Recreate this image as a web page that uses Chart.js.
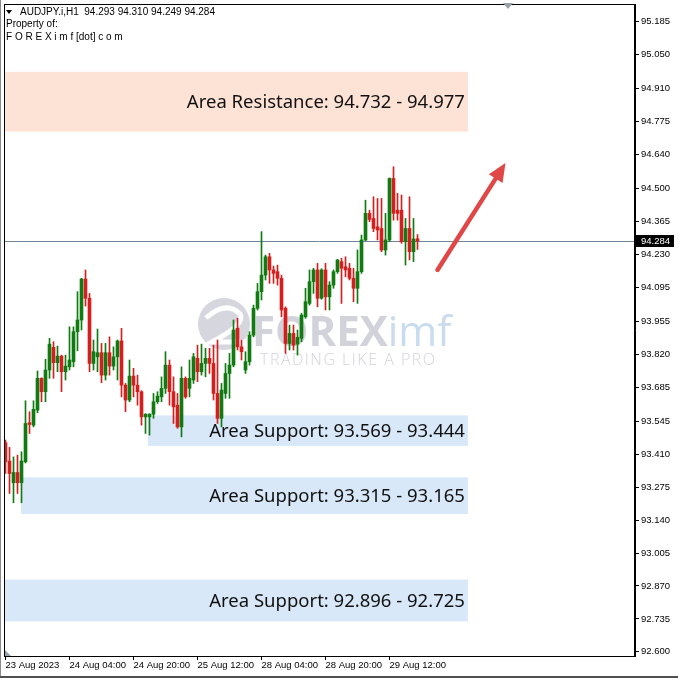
<!DOCTYPE html>
<html>
<head>
<meta charset="utf-8">
<script src="https://cdn.jsdelivr.net/npm/chart.js@4.4.0/dist/chart.umd.min.js"></script>
<style>
html, body { margin: 0; padding: 0; background: #fff; }
#wrap { width: 678px; height: 678px; }
</style>
</head>
<body>
<div id="wrap"><canvas id="myCandleChart" width="678" height="678"></canvas></div>
<script>
// AUDJPY.i H1 - one value per hourly bar, 23 Aug 12:00 -> 29 Aug 19:00
const opens = [93.457, 93.382, 93.293, 93.335, 93.293, 93.379, 93.539, 93.529, 93.591, 93.721,
    93.666, 93.755, 93.848, 93.785, 93.812, 93.748, 93.768, 93.789, 93.912, 93.960,
    94.128, 94.049, 93.782, 93.809, 93.826, 93.734, 93.826, 93.771, 93.809, 93.874,
    93.693, 93.632, 93.730, 93.693, 93.666, 93.563, 93.563, 93.574, 93.625, 93.645,
    93.680, 93.775, 93.666, 93.611, 93.522, 93.721, 93.680, 93.714, 93.803, 93.748,
    93.782, 93.803, 93.782, 93.659, 93.557, 93.659, 93.741, 93.775, 93.926, 93.850,
    93.755, 93.789, 93.898, 94.008, 94.076, 94.144, 94.219, 94.165, 94.158, 94.131,
    94.008, 93.864, 93.905, 93.861, 93.885, 93.973, 94.028, 94.117, 94.165, 94.049,
    94.165, 94.055, 94.103, 94.158, 94.199, 94.178, 94.172, 94.131, 94.090, 94.158,
    94.288, 94.397, 94.376, 94.342, 94.335, 94.247, 94.288, 94.540, 94.410, 94.410,
    94.281, 94.335, 94.240, 94.293];
const highs = [93.468, 93.438, 93.399, 93.406, 93.420, 93.629, 93.584, 93.629, 93.751, 93.723,
    93.799, 93.885, 93.871, 93.853, 93.816, 93.816, 93.932, 93.932, 94.076, 94.131,
    94.165, 94.069, 93.878, 93.923, 93.864, 93.864, 93.891, 93.850, 93.878, 93.926,
    93.700, 93.796, 93.762, 93.734, 93.670, 93.576, 93.576, 93.659, 93.666, 93.727,
    93.830, 93.796, 93.727, 93.659, 93.768, 93.727, 93.796, 93.823, 93.857, 93.861,
    93.844, 93.844, 93.857, 93.878, 93.700, 93.782, 93.823, 93.960, 93.967, 93.878,
    93.830, 93.912, 94.021, 94.110, 94.322, 94.226, 94.233, 94.181, 94.185, 94.144,
    94.014, 93.939, 93.939, 93.919, 93.987, 94.090, 94.165, 94.172, 94.192, 94.170,
    94.192, 94.117, 94.165, 94.208, 94.213, 94.219, 94.192, 94.172, 94.247, 94.308,
    94.451, 94.410, 94.465, 94.458, 94.458, 94.397, 94.542, 94.588, 94.479, 94.472,
    94.376, 94.465, 94.376, 94.310];
const lows = [93.331, 93.249, 93.211, 93.249, 93.211, 93.374, 93.495, 93.522, 93.580, 93.625,
    93.625, 93.721, 93.721, 93.748, 93.666, 93.714, 93.755, 93.768, 93.834, 93.919,
    94.017, 93.748, 93.755, 93.748, 93.703, 93.714, 93.734, 93.755, 93.714, 93.645,
    93.584, 93.625, 93.645, 93.611, 93.529, 93.495, 93.488, 93.557, 93.618, 93.625,
    93.659, 93.611, 93.536, 93.516, 93.481, 93.639, 93.645, 93.700, 93.707, 93.734,
    93.727, 93.741, 93.632, 93.536, 93.522, 93.639, 93.639, 93.768, 93.837, 93.796,
    93.741, 93.775, 93.891, 94.001, 94.042, 94.124, 94.110, 94.110, 94.103, 93.973,
    93.823, 93.837, 93.837, 93.816, 93.871, 93.967, 94.021, 94.069, 94.014, 94.045,
    94.001, 94.001, 94.090, 94.151, 94.028, 94.137, 94.124, 94.035, 94.028, 94.151,
    94.285, 94.363, 94.322, 94.288, 94.240, 94.226, 94.281, 94.369, 94.369, 94.274,
    94.185, 94.206, 94.199, 94.249];
const closes = [93.379, 93.331, 93.335, 93.293, 93.382, 93.536, 93.532, 93.594, 93.721, 93.666,
    93.755, 93.861, 93.785, 93.812, 93.748, 93.771, 93.796, 93.912, 93.960, 94.128,
    94.049, 93.782, 93.830, 93.826, 93.734, 93.826, 93.771, 93.809, 93.874, 93.693,
    93.632, 93.730, 93.693, 93.666, 93.563, 93.574, 93.574, 93.625, 93.648, 93.680,
    93.775, 93.666, 93.604, 93.522, 93.721, 93.645, 93.721, 93.809, 93.748, 93.782,
    93.803, 93.782, 93.659, 93.557, 93.673, 93.741, 93.775, 93.919, 93.850, 93.830,
    93.789, 93.898, 94.008, 94.076, 94.144, 94.219, 94.165, 94.151, 94.131, 94.001,
    93.864, 93.905, 93.857, 93.889, 93.980, 94.035, 94.117, 94.165, 94.049, 94.165,
    94.055, 94.103, 94.158, 94.206, 94.172, 94.165, 94.131, 94.090, 94.158, 94.288,
    94.397, 94.372, 94.335, 94.329, 94.247, 94.288, 94.540, 94.397, 94.397, 94.281,
    94.335, 94.240, 94.292, 94.284];

// eixo X: um rótulo a cada 16 barras
const xTickBars = [0, 16, 32, 48, 64, 80, 96];
const xTickLabels = ['23 Aug 2023', '24 Aug 04:00', '24 Aug 20:00', '25 Aug 12:00', '28 Aug 04:00', '28 Aug 20:00', '29 Aug 12:00'];
const yTickLabels = ['95.185', '95.050', '94.910', '94.775', '94.640', '94.500', '94.365', '94.230', '94.095', '93.955',
    '93.820', '93.685', '93.545', '93.410', '93.275', '93.140', '93.005', '92.870', '92.735', '92.600'];

// zonas (valor da esquerda e da direita do rótulo)
const zoneNames = ['Area Resistance', 'Area Support', 'Area Support', 'Area Support'];
const zoneFrom = [94.732, 93.569, 93.315, 92.896];
const zoneTo = [94.977, 93.444, 93.165, 92.725];
const lastPrice = 94.284;
const headerOHLC = ['94.293', '94.310', '94.249', '94.284'];

// where the boxes start/end, in bar units
const zoneStart = [-1, 35.6, 3.9, -1];
const zoneEnd = 115.6;
const zoneColors = ['#fde2d6', '#d8e8f8', '#d8e8f8', '#d8e8f8'];
const arrowFrom = { bar: 108, price: 94.165 };
const arrowTo = { bar: 125, price: 94.603 };

const upColor = '#127a12';
const downColor = '#d3201f';
const candleColors = opens.map((o, i) => closes[i] >= o ? upColor : downColor);
const bars = opens.map((o, i) => i);

Chart.defaults.font.family = '"Liberation Sans", Arial, sans-serif';
Chart.defaults.font.size = 9.5;
Chart.defaults.color = '#000';

const overlayPlugin = {
    id: 'fxOverlay',
    beforeDatasetsDraw(chart) {
        const c = chart.ctx;
        const x = chart.scales.x, y = chart.scales.y;
        const area = chart.chartArea;
        c.save();
        c.beginPath();
        c.rect(area.left, area.top, area.right - area.left, area.bottom - area.top);
        c.clip();

        // zonas
        zoneFrom.forEach((from, i) => {
            const to = zoneTo[i];
            const x0 = Math.max(area.left, x.getPixelForValue(zoneStart[i]));
            const x1 = x.getPixelForValue(zoneEnd);
            const yTop = y.getPixelForValue(Math.max(from, to));
            const yBot = y.getPixelForValue(Math.min(from, to));
            c.fillStyle = zoneColors[i];
            c.fillRect(x0, yTop, x1 - x0, yBot - yTop);
            c.fillStyle = '#111';
            c.font = '18.5px "Noto Sans", sans-serif';
            c.textAlign = 'right';
            c.textBaseline = 'middle';
            c.fillText(zoneNames[i] + ': ' + from.toFixed(3) + ' - ' + to.toFixed(3), x1 - 3, (yTop + yBot) / 2 + 1);
        });

        // watermark
        c.fillStyle = '#d6d6de';
        c.beginPath();
        c.arc(224, 324, 26, 0, Math.PI * 2);
        c.fill();
        c.strokeStyle = '#ffffff';
        c.lineWidth = 5;
        c.beginPath();
        c.moveTo(206, 318);
        c.quadraticCurveTo(226, 300, 240, 314);
        c.quadraticCurveTo(246, 324, 212, 342);
        c.lineTo(250, 342);
        c.stroke();
        c.textAlign = 'left';
        c.textBaseline = 'alphabetic';
        c.font = 'bold 42px "Open Sans", sans-serif';
        c.fillStyle = '#d2d2da';
        c.fillText('FOREX', 252, 346);
        const fw = c.measureText('FOREX').width;
        c.fillStyle = '#c9dcef';
        c.font = '42px "Open Sans", sans-serif';
        c.fillText('imf', 252 + fw, 346);
        c.font = '300 16px "Open Sans", sans-serif';
        c.letterSpacing = '1.5px';
        c.fillStyle = '#d4d4da';
        c.fillText('TRADING LIKE A PRO', 260, 365);
        c.letterSpacing = '0px';

        // linha do preço atual
        const yp = Math.round(y.getPixelForValue(lastPrice)) + 0.5;
        c.strokeStyle = '#70849a';
        c.lineWidth = 1;
        c.beginPath();
        c.moveTo(area.left, yp);
        c.lineTo(area.right, yp);
        c.stroke();
        c.restore();
    },
    afterDraw(chart) {
        const c = chart.ctx;
        const x = chart.scales.x, y = chart.scales.y;
        const area = chart.chartArea;
        c.save();
        // moldura
        c.strokeStyle = '#000';
        c.lineWidth = 1;
        c.strokeRect(area.left + 0.5, area.top + 0.5, area.right - area.left - 1, area.bottom - area.top);

        // seta
        const ax0 = x.getPixelForValue(arrowFrom.bar), ay0 = y.getPixelForValue(arrowFrom.price);
        const ax1 = x.getPixelForValue(arrowTo.bar), ay1 = y.getPixelForValue(arrowTo.price);
        const ang = Math.atan2(ay1 - ay0, ax1 - ax0);
        const headLen = 20;
        c.strokeStyle = '#e04848';
        c.fillStyle = '#e04848';
        c.lineWidth = 4.5;
        c.lineCap = 'round';
        c.beginPath();
        c.moveTo(ax0, ay0);
        c.lineTo(ax1 - Math.cos(ang) * headLen * 0.8, ay1 - Math.sin(ang) * headLen * 0.8);
        c.stroke();
        c.beginPath();
        c.moveTo(ax1, ay1);
        c.lineTo(ax1 - Math.cos(ang - 0.42) * headLen, ay1 - Math.sin(ang - 0.42) * headLen);
        c.lineTo(ax1 - Math.cos(ang + 0.42) * headLen, ay1 - Math.sin(ang + 0.42) * headLen);
        c.closePath();
        c.fill();

        // price label on the axis
        const yp = Math.round(y.getPixelForValue(lastPrice));
        c.fillStyle = '#000';
        c.fillRect(area.right + 1, yp - 6, 38, 12);
        c.fillStyle = '#fff';
        c.font = '9.5px "Liberation Sans", Arial, sans-serif';
        c.textAlign = 'left';
        c.textBaseline = 'middle';
        c.fillText(lastPrice.toFixed(3), area.right + 6, yp + 0.5);

        // cabeçalho
        c.fillStyle = '#000';
        c.beginPath();
        c.moveTo(6, 10);
        c.lineTo(12, 10);
        c.lineTo(9, 14);
        c.closePath();
        c.fill();
        c.font = '10px "Liberation Sans", Arial, sans-serif';
        c.textBaseline = 'middle';
        c.fillText('AUDJPY.i,H1  ' + headerOHLC.join(' '), 20, 12);
        c.fillText('Property of:', 6, 24);
        c.fillText('F O R E X i m f [dot] c o m', 6, 37);

        // small shift marker at the top
        c.fillStyle = '#9aa0a8';
        c.beginPath();
        c.moveTo(503, 3);
        c.lineTo(513, 3);
        c.lineTo(508, 9);
        c.closePath();
        c.fill();
        c.beginPath();
        c.moveTo(5, area.bottom);
        c.lineTo(5, area.bottom - 6);
        c.lineTo(11, area.bottom);
        c.closePath();
        c.fill();

        // window frame
        c.fillStyle = '#8a8a8a';
        c.fillRect(0, 0, 1, 678);
        c.fillStyle = '#505050';
        c.fillRect(0, 676, 678, 2);
        c.restore();
    }
};

const ctx = document.getElementById('myCandleChart').getContext('2d');
const myCandleChart = new Chart(ctx, {
    type: 'bar',
    data: {
        datasets: [
            {
                label: 'Wicks',
                data: bars.map(i => ({ x: i, y: [lows[i], highs[i]] })),
                backgroundColor: candleColors,
                barThickness: 1,
                grouped: false,
                order: 2
            },
            {
                label: 'Bodies',
                data: bars.map(i => ({ x: i, y: [opens[i], closes[i]] })),
                backgroundColor: candleColors,
                barThickness: 3,
                minBarLength: 1,
                grouped: false,
                order: 1
            }
        ]
    },
    options: {
        responsive: false,
        animation: false,
        devicePixelRatio: 1,
        layout: { padding: { top: 4, left: 4, right: 0, bottom: 0 } },
        plugins: { legend: { display: false }, tooltip: { enabled: false } },
        scales: {
            x: {
                type: 'linear',
                min: -0.375,
                max: 157.375,
                offset: false,
                grid: { display: true, offset: false, drawOnChartArea: false, tickLength: 4, color: '#000' },
                border: { display: true, color: '#000' },
                afterBuildTicks: axis => { axis.ticks = xTickBars.map(v => ({ value: v })); },
                afterFit: axis => {
                    axis.height = 22;
                    axis.paddingLeft = 0;
                    axis.paddingRight = 0;
                },
                ticks: {
                    autoSkip: false,
                    maxRotation: 0,
                    align: 'start',
                    padding: 0,
                    callback: v => xTickLabels[xTickBars.indexOf(v)]
                }
            },
            y: {
                position: 'right',
                min: 92.583,
                max: 95.255,
                grid: { display: true, drawOnChartArea: false, tickLength: 4, color: '#000' },
                border: { display: true, color: '#000' },
                afterBuildTicks: axis => { axis.ticks = yTickLabels.map(v => ({ value: parseFloat(v) })); },
                afterFit: axis => {
                    axis.width = 43;
                    axis.paddingTop = 0;
                    axis.paddingBottom = 0;
                },
                ticks: {
                    padding: 2,
                    callback: v => v.toFixed(3)
                }
            }
        }
    },
    plugins: [overlayPlugin]
});
</script>
</body>
</html>
